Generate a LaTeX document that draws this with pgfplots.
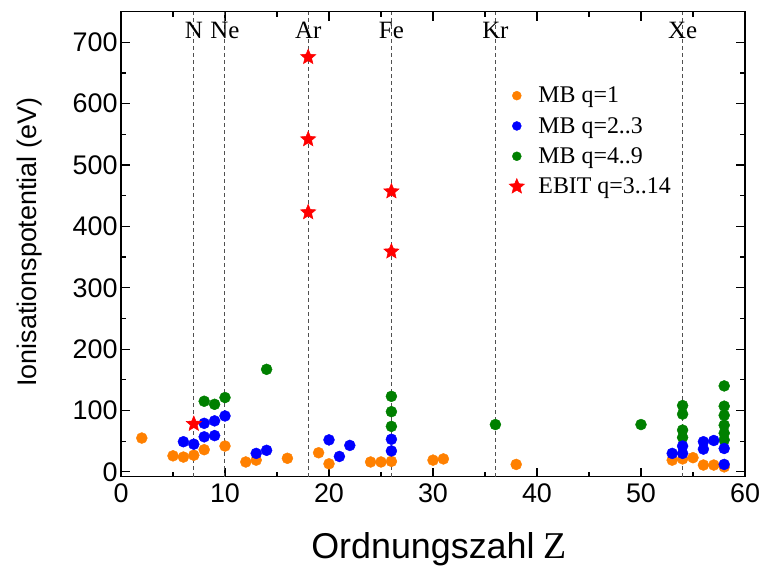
\documentclass[border=0pt]{standalone}
\usepackage{fontspec}
\setmainfont{Liberation Serif}
\newfontfamily\arial{Liberation Sans}
\usepackage{pgfplots}
\pgfplotsset{compat=1.18}
\definecolor{cOr}{RGB}{255,128,0}
\definecolor{cBl}{RGB}{0,0,255}
\definecolor{cGr}{RGB}{0,128,0}
\definecolor{cRd}{RGB}{255,0,0}
\definecolor{cDash}{RGB}{80,80,80}
\pgfdeclareplotmark{fstar}{%
  \pgfpathmoveto{\pgfpointpolar{90}{\pgfplotmarksize}}%
  \pgfpathlineto{\pgfpointpolar{126}{0.45\pgfplotmarksize}}%
  \pgfpathlineto{\pgfpointpolar{162}{\pgfplotmarksize}}%
  \pgfpathlineto{\pgfpointpolar{198}{0.45\pgfplotmarksize}}%
  \pgfpathlineto{\pgfpointpolar{234}{\pgfplotmarksize}}%
  \pgfpathlineto{\pgfpointpolar{270}{0.45\pgfplotmarksize}}%
  \pgfpathlineto{\pgfpointpolar{306}{\pgfplotmarksize}}%
  \pgfpathlineto{\pgfpointpolar{342}{0.45\pgfplotmarksize}}%
  \pgfpathlineto{\pgfpointpolar{18}{\pgfplotmarksize}}%
  \pgfpathlineto{\pgfpointpolar{54}{0.45\pgfplotmarksize}}%
  \pgfpathclose
  \pgfusepathqfillstroke
}
\begin{document}
\begin{tikzpicture}
\useasboundingbox (-121bp,-98.3bp) rectangle (640bp,476.7bp);
\begin{axis}[
  scale only axis, width=624bp, height=465bp,
  xmin=0, xmax=60, ymin=-8, ymax=750,
  xtick={0,10,...,60}, ytick={0,100,...,700},
  minor x tick num=1, minor y tick num=1,
  tick align=inside, xtick pos=both, ytick pos=both,
  major tick length=9bp, minor tick length=5bp,
  axis line style={line width=1.5bp},
  every tick/.style={black, line width=1.2bp},
  /pgf/number format/assume math mode=true,
  tick label style={font=\arial\fontsize{27}{31}\selectfont},
  xticklabel style={yshift=-3bp},
  xlabel={{\arial Ordnungszahl} {\rmfamily\fontsize{38}{40}\selectfont Z}},
  ylabel={\arial Ionisationspotential (eV)},
  xlabel style={at={(rel axis cs:0.5,0)}, anchor=center, yshift=-73bp, xshift=6bp, font=\fontsize{36}{40}\selectfont},
  ylabel style={at={(rel axis cs:0,0.5)}, anchor=center, yshift=91bp, xshift=2bp, font=\fontsize{27}{31}\selectfont},
  legend style={draw=none, fill=none, at={(rel axis cs:0.617,0.847)}, anchor=north west,
    font=\fontsize{24}{26}\selectfont, row sep=9bp,
    /tikz/every odd column/.append style={column sep=12bp}},
  legend cell align=left,
]
\foreach \z in {7,10,18,26,36,54} {
  \edef\temp{\noexpand\addplot[cDash, line width=1bp, dash pattern=on 4bp off 3bp, forget plot] coordinates {(\z,-8) (\z,750)};}
  \temp
}
\node[font=\fontsize{25}{28}\selectfont] at (axis cs:7,720) {N};
\node[font=\fontsize{25}{28}\selectfont] at (axis cs:10,720) {Ne};
\node[font=\fontsize{25}{28}\selectfont] at (axis cs:18,720) {Ar};
\node[font=\fontsize{25}{28}\selectfont] at (axis cs:26,720) {Fe};
\node[font=\fontsize{25}{28}\selectfont] at (axis cs:36,720) {Kr};
\node[font=\fontsize{25}{28}\selectfont] at (axis cs:54,720) {Xe};

\addplot[only marks, mark=*, mark size=5.5bp, cOr, legend image post style={mark size=4.5bp}] coordinates {
(2,55) (5,26) (6,24) (7,27) (8,36) (10,42) (12,16) (13,19) (16,22) (19,31) (20,13)
(24,16) (25,16) (26,17) (30,19) (31,21) (38,12) (53,19) (54,21) (55,23) (56,11) (57,11) (58,8)};
\addlegendentry{MB q=1}
\addlegendimage{only marks, mark=*, mark size=4.5bp, cBl}
\addlegendentry{MB q=2..3}
\addplot[only marks, mark=*, mark size=5.5bp, cGr, legend image post style={mark size=4.5bp}] coordinates {
(8,115) (9,110) (10,121) (14,167) (26,74) (26,98) (26,123) (36,77) (50,77)
(54,56) (54,68) (54,94) (54,108) (58,52) (58,63) (58,76) (58,92) (58,107) (58,140)};
\addlegendentry{MB q=4..9}
\addplot[only marks, mark=*, mark size=5.5bp, cBl, forget plot] coordinates {
(6,49) (7,45) (8,57) (9,59) (8,79) (9,83) (10,91) (13,30) (14,35) (20,52) (21,25) (22,43)
(26,34) (26,53) (53,30) (54,30) (54,42) (56,37) (56,49) (57,51) (58,38) (58,12)};
\addplot[only marks, mark=fstar, mark size=8bp, cRd, mark options={fill=cRd, line width=0.5bp}] coordinates {
(7,78) (18,423) (18,542) (18,676) (26,359) (26,457)};
\addlegendentry{EBIT q=3..14}
\end{axis}
\end{tikzpicture}
\end{document}
